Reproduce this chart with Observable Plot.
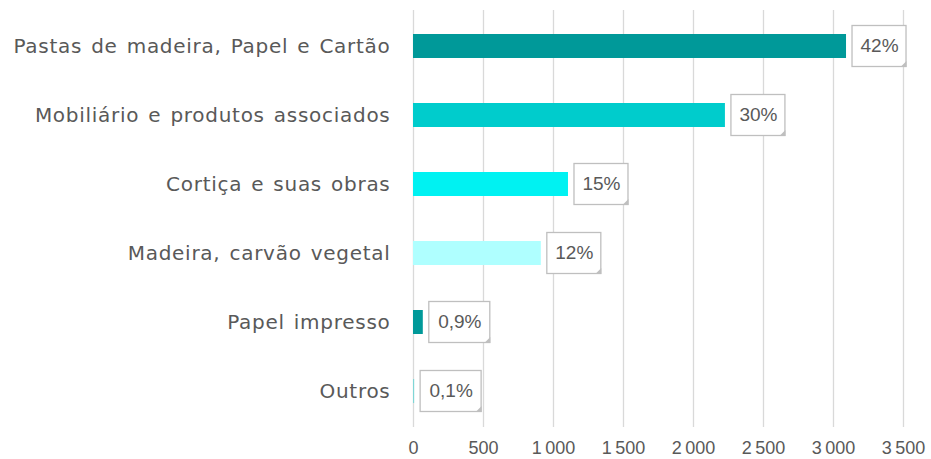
<!DOCTYPE html>
<html>
<head>
<meta charset="utf-8">
<script src="https://cdn.jsdelivr.net/npm/d3@7"></script>
<script src="https://cdn.jsdelivr.net/npm/@observablehq/plot@0.6"></script>
<style>
  html, body { margin: 0; padding: 0; background: #fff; }
  #chart svg { display: block; }
  #chart g[aria-label="y-axis tick label"] text { letter-spacing: 0.72px; word-spacing: 2px; }
</style>
</head>
<body>
<div id="chart"></div>
<script>
const categories = [
  "Pastas de madeira, Papel e Cartão",
  "Mobiliário e produtos associados",
  "Cortiça e suas obras",
  "Madeira, carvão vegetal",
  "Papel impresso",
  "Outros"
];
const values = [3093, 2228, 1107, 913, 70, 8];
const shareLabels = ["42%", "30%", "15%", "12%", "0,9%", "0,1%"];
const barColors = ["#009999", "#00CCCC", "#00F2F2", "#AFFFFF", "#009999", "#7FD6D6"];
const xTicks = [0, 500, 1000, 1500, 2000, 2500, 3000, 3500];

const data = categories.map((c, i) => ({cat: c, v: values[i], lab: shareLabels[i], col: barColors[i]}));

const fmt = n => d3.format(",")(n).replace(/,/g, "\u2009");

const boxW = d => d.lab.length <= 3 ? 54 : 61;

const corner = {
  draw(ctx, size) {
    const s = 6;
    ctx.moveTo(0, 0);
    ctx.lineTo(-s, 0);
    ctx.lineTo(0, -s);
    ctx.closePath();
  }
};

const boxMarks = data.map(d => Plot.barX([d], {
  x1: "v", x2: "v", y: "cat",
  insetLeft: 6, insetRight: -(6 + boxW(d)),
  insetTop: -8.5, insetBottom: -8.5,
  fill: "white", stroke: "#BFBFBF", strokeWidth: 1.3
}));
const cornerMarks = data.map(d => Plot.dot([d], {
  x: "v", y: "cat",
  dx: 6 + boxW(d), dy: 20.5,
  symbol: corner, r: 3, fill: "#BFBFBF", stroke: "none"
}));
const textMarks = data.map(d => Plot.text([d], {
  x: "v", y: "cat", text: "lab",
  dx: 6 + boxW(d) / 2, dy: -1,
  fontSize: 19, fill: "#595959",
  fontFamily: "Liberation Sans, Arial, sans-serif"
}));

const chart = Plot.plot({
  width: 931,
  height: 459,
  marginTop: 10,
  marginBottom: 32,
  marginLeft: 413,
  marginRight: 28,
  style: {fontFamily: "Liberation Sans, Arial, sans-serif", background: "white"},
  x: {domain: [0, 3500], ticks: xTicks, tickFormat: fmt, label: null},
  y: {domain: categories, paddingInner: 0.65, paddingOuter: 0.345, label: null},
  marks: [
    Plot.ruleX(xTicks, {stroke: "#D9D9D9", strokeWidth: 1.3}),
    Plot.axisX({ticks: xTicks, tickFormat: fmt, tickSize: 0, tickPadding: 14, fontSize: 18, fill: "#595959", label: null}),
    Plot.axisY({tickSize: 0, tickPadding: 23, fontSize: 20, fill: "#595959", label: null, fontFamily: "DejaVu Sans, sans-serif"}),
    Plot.barX(data, {x: "v", y: "cat", fill: "col"}),
    ...boxMarks,
    ...cornerMarks,
    ...textMarks
  ]
});
document.getElementById("chart").appendChild(chart);
</script>
</body>
</html>
